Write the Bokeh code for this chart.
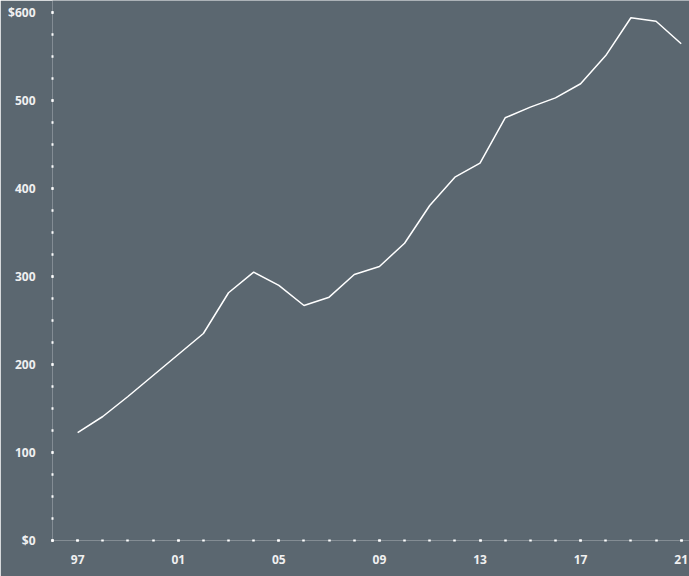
from bokeh.plotting import figure
from bokeh.models import Range1d, FixedTicker, ColumnDataSource
from bokeh.embed import file_html
from bokeh.resources import INLINE

years = list(range(1997, 2022))
values = [122.7, 140.9, 163.6, 187.5, 211.4, 235.2, 281.5, 304.9, 289.8, 267.0,
          276.5, 302.3, 311.4, 337.8, 380.7, 412.8, 428.8, 480.3, 492.4, 503.0,
          519.0, 551.0, 594.0, 590.0, 564.4]

x_tick_years = [1997, 2001, 2005, 2009, 2013, 2017, 2021]
x_tick_labels = ["97", "01", "05", "09", "13", "17", "21"]
x_minor_years = list(range(1996, 2022))
y_tick_values = [0, 100, 200, 300, 400, 500, 600]
y_tick_labels = ["$0", "100", "200", "300", "400", "500", "$600"]
y_minor_values = list(range(0, 601, 25))

BG = "#5b6770"
TXT = "#f0f0f0"

p = figure(width=689, height=576, output_backend="svg", toolbar_location=None,
           x_range=Range1d(1996, 2021.33), y_range=Range1d(0, 613.6),
           min_border_left=52, min_border_right=0, min_border_top=0, min_border_bottom=36)
p.background_fill_color = BG
p.border_fill_color = BG
p.outline_line_color = None
p.xgrid.visible = False
p.ygrid.visible = False

src = ColumnDataSource(dict(x=years, y=values))
p.line("x", "y", source=src, line_color="white", line_width=1.5)

for ax in (p.xaxis[0], p.yaxis[0]):
    ax.axis_line_color = None
    ax.major_tick_line_color = "white"
    ax.minor_tick_line_color = "white"
    ax.major_tick_line_width = 2.5
    ax.minor_tick_line_width = 2.5
    ax.major_tick_in = 1
    ax.major_tick_out = 1
    ax.minor_tick_in = 1
    ax.minor_tick_out = 1
    ax.major_label_text_color = TXT
    ax.major_label_text_font = "Open Sans"
    ax.major_label_text_font_size = "12px"
    ax.major_label_text_font_style = "bold"

p.xaxis[0].ticker = FixedTicker(ticks=x_tick_years, minor_ticks=x_minor_years)
p.xaxis[0].major_label_overrides = {y: l for y, l in zip(x_tick_years, x_tick_labels)}
p.xaxis[0].major_label_standoff = 13

p.yaxis[0].ticker = FixedTicker(ticks=y_tick_values, minor_ticks=y_minor_values)
p.yaxis[0].major_label_overrides = {v: l for v, l in zip(y_tick_values, y_tick_labels)}
p.yaxis[0].major_label_standoff = 16

open("out.html", "w").write(file_html(p, INLINE))
